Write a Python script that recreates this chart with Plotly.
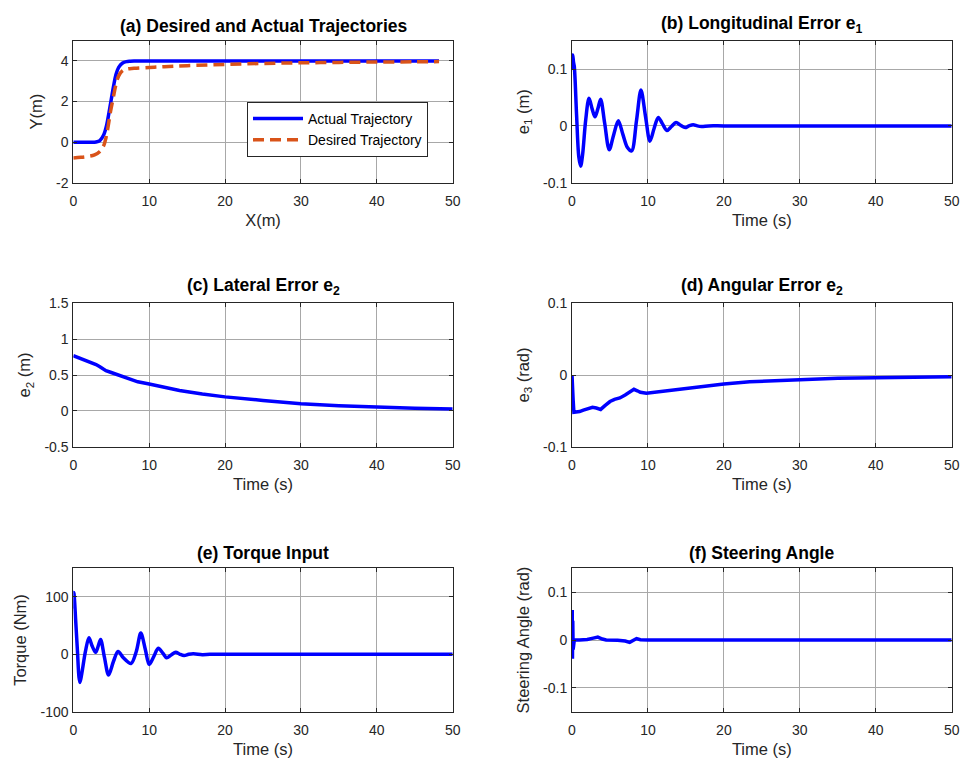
import plotly.graph_objects as go

# ---------------- data ----------------
# (a) trajectories
x_actual = [0, 1, 2, 3, 3.5, 4, 4.4, 4.7, 5.0, 5.3, 5.6, 6.0, 6.5, 7.0, 7.5, 8, 10, 20, 30, 40, 48.2]
y_actual = [0, 0, 0, 0.01, 0.08, 0.35, 0.85, 1.45, 2.1, 2.75, 3.3, 3.7, 3.9, 3.97, 3.99, 4, 4, 4, 4, 4, 4]
x_desired = [0, 1, 2, 2.8, 3.5, 4.0, 4.3, 4.6, 4.9, 5.25, 5.6, 6.0, 6.5, 7.0, 8, 10, 12, 15, 20, 25, 30, 35, 40, 45, 48.2]
y_desired = [-0.78, -0.75, -0.7, -0.63, -0.46, -0.18, 0.2, 0.8, 1.5, 2.16, 2.8, 3.28, 3.52, 3.6, 3.64, 3.68, 3.72,
             3.77, 3.83, 3.88, 3.91, 3.93, 3.95, 3.96, 3.97]

# (b) longitudinal error e1
t_e1 = [0, 0.1, 0.2, 0.3, 0.6, 0.9, 1.14, 1.4, 1.8, 2.24, 2.65, 3.03, 3.4, 3.77, 4.3, 4.9, 5.5, 6.1, 6.7, 7.3,
        7.85, 8.5, 9.08, 9.7, 10.26, 10.8, 11.36, 11.9, 12.5, 13.1, 13.7, 14.3, 14.9, 15.4, 15.96, 16.5, 17.06,
        18, 20, 30, 40, 50]
e1 = [0.10, 0.125, 0.112, 0.105, 0.02, -0.055, -0.071, -0.05, 0.01, 0.0485, 0.03, 0.016, 0.03, 0.047, 0.005,
      -0.042, -0.015, 0.009, -0.015, -0.038, -0.044, 0.01, 0.063, 0.015, -0.027, -0.005, 0.015, 0.004, -0.008,
      -0.001, 0.006, 0.001, -0.003, 0, 0.002, 0, -0.001, 0, 0, 0, 0, 0]

# (c) lateral error e2
t_e2 = [0, 1, 2, 3, 3.5, 4.3, 5, 6, 7, 8, 8.5, 10, 12, 14, 17, 20, 25, 30, 35, 40, 45, 50]
e2 = [0.77, 0.73, 0.69, 0.645, 0.615, 0.56, 0.535, 0.50, 0.465, 0.42, 0.405, 0.375, 0.33, 0.285, 0.235, 0.195,
      0.145, 0.1, 0.072, 0.052, 0.036, 0.025]

# (d) angular error e3
t_e3 = [0, 0.05, 0.1, 0.15, 0.25, 0.5, 1.0, 1.5, 2.0, 2.7, 3.2, 3.77, 4.3, 5.0, 5.6, 6.3, 7.0, 7.5, 8.16, 8.6,
        9.0, 9.8, 11, 13, 15, 17.3, 20, 23.4, 27, 30, 35, 40, 45, 50]
e3 = [0, -0.032, -0.01, -0.035, -0.052, -0.052, -0.051, -0.049, -0.047, -0.045, -0.046, -0.048, -0.043, -0.037,
      -0.034, -0.032, -0.028, -0.025, -0.020, -0.022, -0.024, -0.0255, -0.024, -0.021, -0.018, -0.0153, -0.0125,
      -0.0093, -0.0075, -0.006, -0.0047, -0.0038, -0.003, -0.0023]

# (e) torque input
t_tq = [0, 0.05, 0.1, 0.3, 0.55, 0.75, 0.88, 1.1, 1.6, 2.06, 2.5, 2.94, 3.3, 3.6, 4.1, 4.65, 5.3, 5.9, 6.6, 7.6,
        8.3, 8.9, 9.5, 10.0, 10.6, 11.2, 11.8, 12.3, 12.9, 13.5, 14.0, 14.6, 15.2, 15.8, 17, 18, 20, 30, 40, 50]
torque = [80, 108, 105, 62, 5, -40, -49, -35, 5, 29, 14, 3.5, 15, 26, -5, -36, -12, 5, -6, -16, 5, 37, 8,
          -17.5, -4, 10.5, 2, -6, -1, 3.5, 0.5, -2, 0, 1, -0.5, 0, 0, 0, 0, 0]

# (f) steering angle
t_st = [0, 0.03, 0.06, 0.1, 0.15, 0.3, 1, 2, 2.8, 3.4, 4, 4.5, 6, 7, 7.6, 8, 8.5, 9, 10, 50]
steer = [0.02, 0.063, -0.039, 0.04, -0.02, 0, 0, 0.001, 0.004, 0.006, 0.002, 0, -0.0005, -0.002, -0.005, -0.001,
         0.003, 0.0005, 0, 0]

# axes ticks / labels
x_ticks = [0, 10, 20, 30, 40, 50]
x_ticktext = ["0", "10", "20", "30", "40", "50"]
yt_a = [-2, 0, 2, 4];            ytt_a = ["-2", "0", "2", "4"]
yt_b = [-0.1, 0, 0.1];           ytt_b = ["-0.1", "0", "0.1"]
yt_c = [-0.5, 0, 0.5, 1, 1.5];   ytt_c = ["-0.5", "0", "0.5", "1", "1.5"]
yt_d = [-0.1, 0, 0.1];           ytt_d = ["-0.1", "0", "0.1"]
yt_e = [-100, 0, 100];           ytt_e = ["-100", "0", "100"]
yt_f = [-0.1, 0, 0.1];           ytt_f = ["-0.1", "0", "0.1"]

titles = ["<b>(a) Desired and Actual Trajectories</b>",
          "<b>(b) Longitudinal Error e<sub>1</sub></b>",
          "<b>(c) Lateral Error e<sub>2</sub></b>",
          "<b>(d) Angular Error e<sub>2</sub></b>",
          "<b>(e) Torque Input</b>",
          "<b>(f) Steering Angle</b>"]
ylabels = ["Y(m)", "e<sub>1</sub> (m)", "e<sub>2</sub> (m)", "e<sub>3</sub> (rad)", "Torque (Nm)",
           "Steering Angle (rad)"]
xlabels = ["X(m)", "Time (s)", "Time (s)", "Time (s)", "Time (s)", "Time (s)"]

# ---------------- figure ----------------
FONT = "Liberation Sans, Arial, Helvetica, sans-serif"
BLUE = "#0000FF"
ORANGE = "#D95319"
AXC = "#262626"
GRIDC = "#a8a8a8"

W, H = 962, 760


def px_x(v):
    return v / W


def px_y(v):
    return 1 - v / H


x_domains = [[px_x(73.3), px_x(452.7)], [px_x(572.0), px_x(951.7)]]
y_domains = [[px_y(182.7), px_y(40.7)], [px_y(446.7), px_y(303.3)], [px_y(711.7), px_y(568.3)]]

yranges = [[-2, 5], [-0.1, 0.15], [-0.5, 1.5], [-0.1, 0.1], [-100, 150], [-0.15, 0.15]]
yticks = [(yt_a, ytt_a), (yt_b, ytt_b), (yt_c, ytt_c), (yt_d, ytt_d), (yt_e, ytt_e), (yt_f, ytt_f)]

fig = go.Figure()

LW = 3.5
fig.add_trace(go.Scatter(x=x_actual, y=y_actual, mode="lines", name="Actual Trajectory",
                         line=dict(color=BLUE, width=LW, shape="spline"), xaxis="x", yaxis="y"))
fig.add_trace(go.Scatter(x=x_desired, y=y_desired, mode="lines", name="Desired Trajectory",
                         line=dict(color=ORANGE, width=LW, dash="11px,6px", shape="spline"), xaxis="x", yaxis="y"))
fig.add_trace(go.Scatter(x=t_e1, y=e1, mode="lines", showlegend=False,
                         line=dict(color=BLUE, width=LW, shape="spline", smoothing=0.9), xaxis="x2", yaxis="y2"))
fig.add_trace(go.Scatter(x=t_e2, y=e2, mode="lines", showlegend=False,
                         line=dict(color=BLUE, width=LW), xaxis="x3", yaxis="y3"))
fig.add_trace(go.Scatter(x=t_e3, y=e3, mode="lines", showlegend=False,
                         line=dict(color=BLUE, width=LW), xaxis="x4", yaxis="y4"))
fig.add_trace(go.Scatter(x=t_tq, y=torque, mode="lines", showlegend=False,
                         line=dict(color=BLUE, width=LW, shape="spline", smoothing=0.9), xaxis="x5", yaxis="y5"))
fig.add_trace(go.Scatter(x=t_st, y=steer, mode="lines", showlegend=False,
                         line=dict(color=BLUE, width=LW), xaxis="x6", yaxis="y6"))

layout = dict(
    width=W, height=H,
    margin=dict(l=0, r=0, t=0, b=0, autoexpand=False),
    paper_bgcolor="white", plot_bgcolor="white",
    font=dict(family=FONT, color=AXC, size=14),
    legend=dict(x=px_x(247), y=px_y(102), xanchor="left", yanchor="top",
                bgcolor="white", bordercolor=AXC, borderwidth=1,
                font=dict(family=FONT, size=14, color="black"), itemwidth=50,
                tracegroupgap=0),
    annotations=[],
)

for i in range(6):
    r, c = divmod(i, 2)
    sx = "" if i == 0 else str(i + 1)
    common = dict(showline=True, linecolor=AXC, linewidth=1, mirror="ticks", ticks="inside",
                  ticklen=4, tickcolor=AXC, showgrid=True, gridcolor=GRIDC, gridwidth=1,
                  zeroline=False, automargin=False, tickfont=dict(family=FONT, size=14, color=AXC))
    layout["xaxis" + sx] = dict(domain=x_domains[c], anchor="y" + sx, range=[0, 50],
                                tickvals=x_ticks, ticktext=x_ticktext, ticklabelstandoff=5,
                                title=dict(text=xlabels[i], font=dict(family=FONT, size=16.5, color=AXC),
                                           standoff=6),
                                **common)
    layout["yaxis" + sx] = dict(domain=y_domains[r], anchor="x" + sx, range=yranges[i],
                                tickvals=yticks[i][0], ticktext=yticks[i][1], ticklabelstandoff=1,
                                title=dict(text=ylabels[i], font=dict(family=FONT, size=16.5, color=AXC),
                                           standoff=9),
                                **common)
    layout["annotations"].append(dict(
        text=titles[i], xref="paper", yref="paper",
        x=sum(x_domains[c]) / 2, y=y_domains[r][1], xanchor="center", yanchor="bottom",
        yshift=3, showarrow=False, font=dict(family=FONT, size=17.5, color="black")))

fig.update_layout(**layout)
# remove the default 8px page margin so the 962x760 figure fills the window exactly
fig.write_html("out.html", config={"displayModeBar": False},
               post_script="document.body.style.margin='0';document.body.style.overflow='hidden';")
